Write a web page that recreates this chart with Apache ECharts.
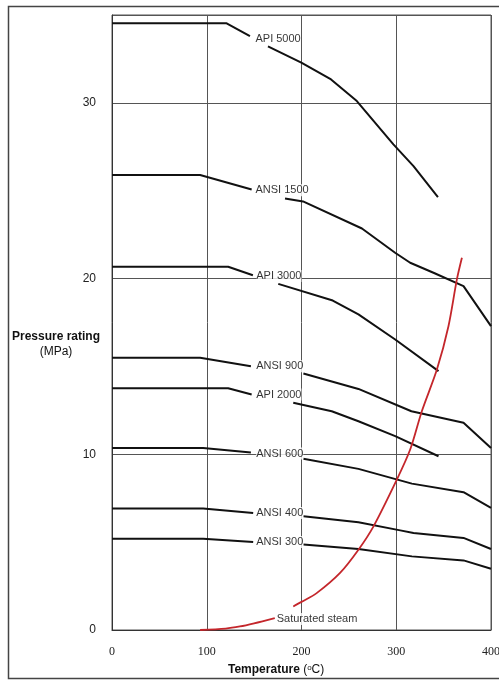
<!DOCTYPE html>
<html>
<head>
<meta charset="utf-8">
<script src="https://cdn.jsdelivr.net/npm/echarts@6/dist/echarts.min.js"></script>
<style>html,body{margin:0;padding:0;background:#fff}#c{width:499px;height:681px}</style>
</head>
<body>
<div id="c"></div>
<script>
var G = '-';
var api5000  = [[0,34.53],[121,34.53],[145.6,33.8],[155,G],[164.6,33.22],[199.8,32.29],[231.2,31.33],[258.4,30.1],[297,27.64],[318.2,26.4],[344,24.64]];
var ansi1500 = [[0,25.89],[93,25.89],[147.4,25.07],[160,G],[182.6,24.56],[201.6,24.39],[263.8,22.85],[298.8,21.47],[314.7,20.9],[339.3,20.33],[371,19.57],[400,17.29]];
var api3000  = [[0,20.67],[122.6,20.67],[148.7,20.19],[160,G],[175.5,19.7],[233,18.75],[260.1,17.96],[298.9,16.53],[344.6,14.73]];
var ansi900  = [[0,15.49],[93,15.49],[146.6,15.01],[170,G],[202,14.6],[260.1,13.72],[316,12.45],[371,11.79],[400,10.36]];
var api2000  = [[0,13.76],[122.6,13.76],[147.4,13.4],[170,G],[191.3,12.93],[231.9,12.45],[260.1,11.88],[298.9,11.03],[344.6,9.89]];
var ansi600  = [[0,10.36],[96.2,10.36],[146.6,10.1],[170,G],[202,9.74],[260.1,9.17],[316.5,8.33],[371,7.84],[400,6.95]];
var ansi400  = [[0,6.92],[96.2,6.92],[149,6.66],[170,G],[202,6.47],[260.1,6.13],[304.2,5.67],[318.2,5.52],[371,5.24],[400,4.61]];
var ansi300  = [[0,5.2],[96.2,5.2],[149,5.01],[170,G],[202,4.86],[260.1,4.61],[316.5,4.19],[371,3.96],[400,3.49]];
var steam    = [[93,0],[120,0.08],[135,0.2],[150,0.38],[171.8,0.68],[180,G],[191.3,1.34],[200,1.6],[216,2.1],[240.7,3.25],[260.1,4.57],[276,5.9],[300.6,8.56],[314.7,10.27],[327,12.45],[342.9,14.82],[355.1,17.29],[364,19.95],[369.3,21.18]];

var labelTexts = ['API 5000','ANSI 1500','API 3000','ANSI 900','API 2000','ANSI 600','ANSI 400','ANSI 300','Saturated steam'];
var labelX = [151.4,151.4,152.2,152.2,152.2,152.2,152.2,152.2,173.8];
var labelY = [33.66,25.03,20.14,15.01,13.4,10.04,6.66,5.01,0.63];

var xTicks = [0,100,200,300,400];
var yTicks = [0,10,20,30];

var blackSeries = [api5000, ansi1500, api3000, ansi900, api2000, ansi600, ansi400, ansi300];
var series = blackSeries.map(function(d){
  return {type:'line', data:d, symbol:'none', connectNulls:false, z:3,
          lineStyle:{color:'#111', width:2}, silent:true};
});
series.push({type:'line', data:steam, symbol:'none', smooth:0.3, connectNulls:false, z:4,
             lineStyle:{color:'#c4262b', width:1.8}, silent:true});
series.push({type:'scatter', z:10, symbolSize:0, silent:true,
  data: labelTexts.map(function(t,i){return [labelX[i], labelY[i], t];}),
  label:{show:true, position:'right', distance:0, formatter:function(p){return p.data[2];},
         fontFamily:'Liberation Sans, Arial, sans-serif', fontSize:11, color:'#000',
         backgroundColor:'#fff', padding:[1,0,0,0]}
});

var chart = echarts.init(document.getElementById('c'), null, {renderer:'canvas'});
chart.setOption({
  animation:false,
  backgroundColor:'#fff',
  grid:{left:112, right:8, top:15, bottom:51, show:true, borderColor:'#555', borderWidth:1,
        containLabel:false, outerBoundsMode:'none'},
  xAxis:{type:'value', min:0, max:400, interval:100,
    axisLine:{lineStyle:{color:'#333', width:1}}, axisTick:{show:false},
    axisLabel:{margin:16, fontFamily:'Liberation Serif, Times New Roman, serif', fontSize:12, color:'#222',
      formatter:function(v){return xTicks.indexOf(v)>=0 ? String(v) : '';}},
    splitLine:{show:true, lineStyle:{color:'#555', width:1}}},
  yAxis:{type:'value', min:0, max:35, interval:10,
    axisLine:{show:true, lineStyle:{color:'#333', width:1}}, axisTick:{show:false},
    axisLabel:{margin:16, fontFamily:'Liberation Sans, Arial, sans-serif', fontSize:12, color:'#222', showMaxLabel:false,
      formatter:function(v){return yTicks.indexOf(v)>=0 ? String(v) : '';}},
    splitLine:{show:true, lineStyle:{color:'#555', width:1}}},
  graphic:[
    {type:'rect', shape:{x:8.5, y:6.5, width:600, height:672}, style:{fill:'none', stroke:'#444', lineWidth:1.5}, z:-1},
    {type:'text', x:56, y:337, style:{text:'Pressure rating', font:'bold 12px Liberation Sans, Arial, sans-serif', fill:'#111', align:'center', verticalAlign:'middle'}},
    {type:'text', x:56, y:352, style:{text:'(MPa)', font:'12px Liberation Sans, Arial, sans-serif', fill:'#111', align:'center', verticalAlign:'middle'}},
    {type:'text', x:228, y:670, style:{text:'{b|Temperature} {n|(}{s|o}{n|C)}', align:'left', verticalAlign:'middle',
      rich:{b:{font:'bold 12px Liberation Sans, Arial, sans-serif', fill:'#111'},
            n:{font:'12px Liberation Sans, Arial, sans-serif', fill:'#111'},
            s:{font:'8px Liberation Sans, Arial, sans-serif', fill:'#111', verticalAlign:'top', padding:[0,0,5,0]}}}}
  ],
  series:series
});
</script>
</body>
</html>
